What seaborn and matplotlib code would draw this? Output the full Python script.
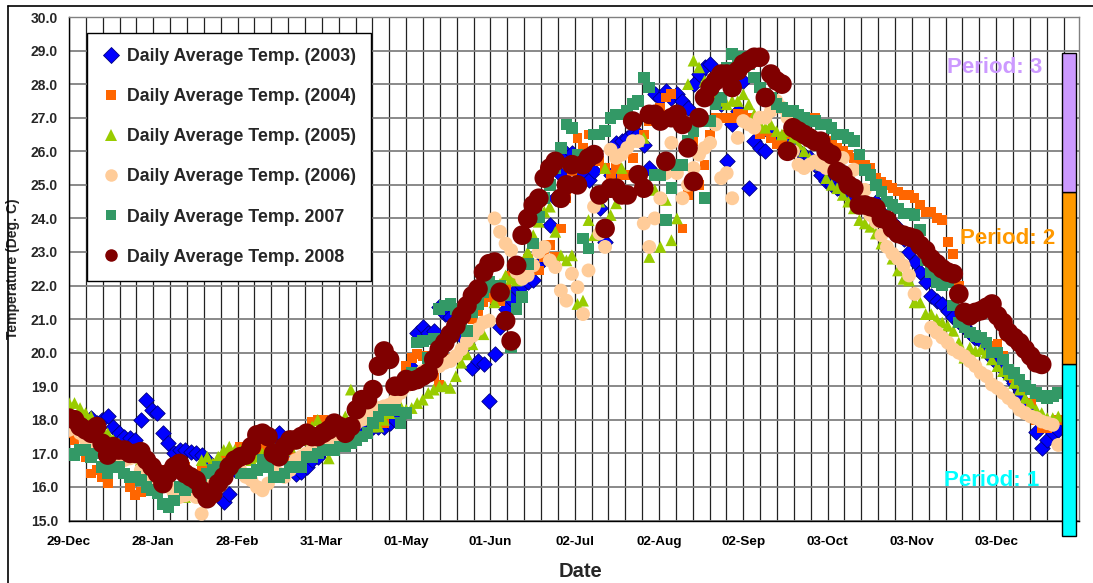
import numpy as np
import pandas as pd
import matplotlib
matplotlib.use("Agg")
import matplotlib.pyplot as plt
import seaborn as sns
from matplotlib.lines import Line2D
from matplotlib.patches import Rectangle

sns.set_style("white")
plt.rcParams["font.family"] = ["Liberation Sans", "DejaVu Sans"]

# ---------------- data (day 0 = 29-Dec, one reading every 2 days) ----------------
days = np.arange(0, 360, 2)

temp_2003 = [
    17.8, 17.9, 17.9, 18.0, 18.05, 17.9, 18.0, 18.1, 17.8, 17.6,
    17.5, 17.45, 17.4, 18.0, 18.6, 18.3, 18.2, 17.6, 17.3, 17.0,
    17.1, 17.1, 17.05, 17.0, 16.95, 16.8, 16.6, 16.2, 15.55, 15.8,
    16.5, 16.9, 17.1, 17.2, 17.3, 17.4, 17.4, 17.5, 17.6, 17.3,
    16.7, 16.4, 16.45, 16.6, 16.8, 16.9, 17.1, 17.3, 17.4, 17.5,
    17.6, 17.6, 17.7, 17.8, 17.8, 17.8, 17.8, 17.8, 17.9, 18.0,
    18.9, 19.3, 19.55, 20.6, 20.75, 20.6, 20.65, 21.35, 21.15, 21.05,
    20.8, 20.5, 20.25, 19.55, 19.75, 19.65, 18.55, 19.95, 20.75, 21.3,
    21.6, 21.9, 22.0, 22.1, 22.15, 22.65, 22.85, 23.8, 24.6, 25.3,
    25.95, 25.95, 25.8, 25.3, 25.15, 25.4, 24.3, 23.3, 25.3, 26.25,
    26.3, 26.4, 26.55, 26.5, 26.2, 25.5, 27.7, 27.6, 27.8, 27.6,
    27.7, 27.5, 27.3, 28.0, 28.3, 28.5, 28.6, 28.0, 27.4, 25.7,
    26.8, 27.2, 28.1, 24.9, 26.3, 26.1, 26.0, 26.5, 26.4, 26.4,
    26.2, 26.1, 26.0, 25.9, 25.8, 25.6, 25.3, 25.1, 25.0, 24.9,
    24.8, 24.7, 24.6, 24.5, 24.5, 24.4, 24.5, 24.2, 24.0, 23.9,
    23.7, 23.4, 23.0, 22.7, 22.4, 22.1, 21.7, 21.55, 21.45, 21.25,
    21.05, 20.9, 20.8, 20.6, 20.45, 20.35, 20.1, 19.85, 19.7, 19.5,
    19.3, 19.1, 18.8, 18.5, 18.2, 17.65, 17.15, 17.4, 17.6, 17.7,
]

temp_2004 = [
    17.6, 17.4, 17.1, 16.9, 16.4, 16.5, 16.3, 16.1, 16.6, 16.8,
    16.4, 16.0, 15.75, 15.85, 16.1, 16.3, 16.4, 16.5, 16.3, 16.4,
    16.5, 16.6, 16.4, 16.3, 16.5, 16.3, 16.6, 16.7, 16.8, 16.9,
    17.0, 17.2, 17.1, 17.0, 17.1, 17.2, 17.3, 17.0, 16.9, 16.9,
    17.1, 17.3, 17.5, 17.7, 17.95, 18.0, 18.0, 17.9, 17.7, 17.6,
    17.7, 17.8, 17.9, 18.1, 18.2, 18.1, 17.95, 17.9, 18.2, 18.6,
    19.1, 19.6, 19.85, 19.95, 19.9, 19.6, 19.3, 19.05, 19.8, 20.5,
    20.75, 20.7, 20.65, 21.0, 21.25, 21.5, 21.65, 21.6, 21.55, 21.9,
    22.3, 22.5, 22.7, 22.8, 22.6, 22.45, 22.85, 23.2, 22.85, 23.7,
    24.6, 25.4, 26.4, 26.1, 26.5, 26.0, 25.7, 25.5, 25.3, 25.5,
    25.3, 25.3, 25.8, 26.3, 26.5, 26.9, 27.1, 27.3, 27.6, 27.7,
    27.2, 23.7, 24.7, 26.3, 25.0, 25.6, 26.5, 27.0, 27.0, 27.0,
    27.0, 27.1, 27.1, 27.0, 26.9, 26.5, 26.6, 26.4, 26.2, 26.3,
    26.5, 26.6, 26.8, 26.9, 27.0, 27.0, 26.4, 26.3, 26.2, 26.1,
    26.0, 25.9, 25.8, 25.7, 25.6, 25.5, 25.2, 25.1, 25.0, 24.9,
    24.8, 24.7, 24.7, 24.6, 24.4, 24.2, 24.2, 24.0, 23.95, 23.3,
    22.95, 22.0, 21.0, 20.6, 20.45, 20.45, 20.3, 20.2, 20.25, 19.9,
    19.5, 19.25, 19.2, 18.9, 18.5, 18.0, 17.75, 17.75, 17.9, 18.0,
]

temp_2005 = [
    18.5, 18.5, 18.35, 18.2, 18.1, 17.9, 17.7, 17.6, 17.4, 17.3,
    17.2, 17.0, 16.9, 16.8, 16.6, 16.4, 16.3, 16.2, 16.0, 15.9,
    15.8, 15.7, 15.9, 16.3, 16.8, 16.9, 16.7, 16.9, 17.1, 17.2,
    17.1, 17.1, 16.9, 16.8, 16.9, 17.0, 17.1, 17.2, 17.1, 17.1,
    17.2, 17.3, 17.4, 17.5, 17.8, 18.0, 17.4, 16.85, 17.2, 17.6,
    18.1, 18.9, 18.6, 18.3, 18.0, 17.8, 17.8, 18.0, 18.2, 18.3,
    18.4, 18.3, 18.35, 18.5, 18.6, 18.8, 18.9, 19.0, 19.0, 18.95,
    19.3, 19.7, 19.95, 20.25, 20.7, 20.55, 21.0, 21.5, 22.05, 22.3,
    22.2, 22.15, 22.5, 23.0, 23.5, 23.9, 24.2, 24.35, 23.6, 22.9,
    22.75, 22.9, 21.45, 21.55, 23.95, 23.5, 24.5, 25.5, 24.1, 24.45,
    25.5, 26.2, 26.3, 26.3, 26.4, 22.85, 24.85, 23.15, 24.55, 23.35,
    24.0, 27.0, 28.0, 28.7, 28.5, 28.1, 27.8, 27.6, 27.5, 27.4,
    27.5, 27.5, 27.7, 27.4, 27.1, 26.8, 26.7, 26.8, 26.6, 26.5,
    26.6, 26.4, 26.2, 26.0, 25.8, 25.7, 25.6, 25.2, 25.0, 24.9,
    24.7, 24.5, 24.3, 23.95, 23.85, 23.75, 23.55, 23.25, 23.2, 22.8,
    22.45, 22.2, 22.15, 21.5, 21.5, 21.15, 21.15, 21.0, 20.9, 20.8,
    20.65, 20.3, 19.85, 20.15, 20.05, 20.1, 20.0, 19.8, 19.6, 19.45,
    19.35, 19.1, 18.9, 18.65, 18.5, 18.3, 18.2, 18.05, 18.05, 18.1,
]

temp_2006 = [
    17.7, 17.8, 17.6, 17.4, 17.3, 17.2, 17.1, 17.0, 16.9, 16.9,
    16.8, 16.85, 16.9, 16.5, 16.4, 16.3, 16.2, 16.1, 16.0, 15.8,
    15.7, 15.75, 15.8, 15.7, 15.2, 16.0, 16.3, 16.4, 16.5, 16.6,
    16.6, 16.5, 16.3, 16.2, 16.0, 15.9, 16.1, 16.6, 16.4, 16.3,
    16.5, 16.8, 16.9, 17.0, 17.1, 17.2, 17.3, 17.4, 17.5, 17.6,
    17.7, 17.8, 17.9, 18.0, 18.2, 18.3, 18.35, 18.4, 18.45, 18.6,
    18.8, 19.0, 19.1, 19.3, 19.45, 19.5, 19.6, 19.6, 19.7, 19.75,
    19.9, 20.1, 20.35, 20.5, 20.7, 20.9, 20.95, 24.0, 23.6, 23.25,
    23.05, 22.4, 22.2, 22.3, 22.6, 23.0, 23.15, 22.75, 22.55, 21.85,
    21.55, 22.35, 21.95, 21.15, 22.45, 24.35, 23.55, 23.15, 26.05, 25.8,
    25.9, 26.1, 26.3, 26.3, 23.85, 23.15, 24.0, 24.6, 25.35, 26.25,
    25.35, 24.6, 25.0, 25.5, 25.9, 26.1, 26.25, 26.8, 25.2, 25.35,
    24.6, 26.4, 26.9, 26.8, 26.7, 27.0, 27.0, 27.2, 27.5, 27.3,
    27.0, 26.0, 25.6, 25.5, 25.6, 25.7, 25.6, 25.5, 25.6, 25.7,
    25.8, 25.3, 25.45, 24.8, 24.85, 24.1, 23.9, 23.5, 23.15, 22.95,
    22.8, 22.6, 22.3, 21.75, 20.35, 20.3, 20.75, 20.6, 20.45, 20.3,
    20.1, 20.0, 19.9, 19.75, 19.6, 19.4, 19.3, 19.05, 18.95, 18.8,
    18.65, 18.5, 18.3, 18.2, 18.1, 18.05, 17.95, 17.9, 17.85, 17.25,
]

temp_2007 = [
    17.0, 16.95, 17.1, 17.1, 16.9, 17.0, 16.6, 16.4, 16.6, 16.6,
    16.4, 16.3, 16.3, 16.2, 16.0, 15.9, 15.8, 15.5, 15.4, 15.6,
    16.0, 15.9, 16.0, 16.1, 16.3, 16.4, 16.5, 16.6, 16.6, 16.7,
    16.8, 16.4, 16.4, 16.4, 16.5, 16.8, 16.6, 16.3, 16.3, 16.4,
    16.6, 16.6, 16.6, 16.9, 16.9, 17.0, 17.1, 17.1, 17.1, 17.2,
    17.2, 17.3, 17.4, 17.5, 17.6, 17.9, 18.1, 18.3, 18.3, 18.3,
    17.9, 18.2, 19.4, 20.3, 20.35, 19.85, 20.4, 21.3, 21.4, 21.45,
    21.3, 20.9, 20.65, 21.2, 21.45, 21.8, 22.1, 21.95, 22.0, 21.7,
    20.15, 21.3, 21.65, 22.65, 23.25, 24.05, 24.6, 25.0, 25.5, 26.1,
    26.8, 26.7, 25.9, 23.4, 23.1, 26.5, 26.5, 26.6, 27.0, 27.1,
    27.1, 27.2, 27.4, 27.5, 28.2, 27.9, 25.3, 25.3, 23.95, 24.9,
    25.6, 25.6, 26.3, 26.6, 26.9, 24.6, 26.9, 27.4, 27.6, 28.5,
    28.9, 28.8, 28.8, 28.6, 28.2, 27.9, 27.7, 27.6, 27.4, 27.3,
    27.2, 27.2, 27.1, 27.0, 26.9, 26.9, 26.8, 26.8, 26.7, 26.5,
    26.5, 26.4, 26.3, 25.9, 25.45, 25.3, 25.0, 24.8, 24.5, 24.4,
    24.3, 24.15, 24.15, 24.1, 23.65, 22.75, 22.4, 22.1, 22.0, 22.1,
    21.4, 20.9, 20.75, 20.6, 20.5, 20.45, 20.3, 20.0, 20.0, 19.8,
    19.5, 19.4, 19.2, 19.0, 18.9, 18.8, 18.7, 18.65, 18.7, 18.8,
]

temp_2008 = [
    18.05, 18.0, 17.8, 17.7, 17.6, 17.8, 17.3, 16.95, 17.2, 17.1,
    17.1, 17.0, 17.0, 17.05, 16.8, 16.6, 16.4, 16.1, 16.4, 16.6,
    16.7, 16.4, 16.3, 16.2, 15.9, 15.65, 15.8, 16.1, 16.3, 16.6,
    16.8, 16.9, 16.95, 17.2, 17.55, 17.6, 17.5, 17.0, 16.9, 17.2,
    17.4, 17.4, 17.5, 17.6, 17.5, 17.5, 17.6, 17.7, 17.9, 17.8,
    17.6, 17.8, 18.3, 18.6, 18.6, 18.9, 19.6, 20.05, 19.8, 19.0,
    19.0, 19.2, 19.15, 19.2, 19.3, 19.4, 19.8, 20.1, 20.3, 20.55,
    20.8, 21.1, 21.4, 21.7, 21.9, 22.4, 22.65, 22.7, 21.8, 20.95,
    20.35, 22.6, 23.5, 24.0, 24.4, 24.6, 25.2, 25.5, 25.7, 24.6,
    25.0, 25.6, 25.0, 25.6, 25.8, 25.9, 24.7, 23.7, 24.9, 24.9,
    24.7, 24.7, 26.9, 25.3, 24.9, 27.1, 27.1, 26.9, 25.7, 27.0,
    27.1, 26.8, 26.1, 25.1, 27.0, 27.6, 27.9, 28.1, 28.3, 28.3,
    27.9, 28.4, 28.6, 28.7, 28.8, 28.8, 27.6, 28.3, 28.1, 28.0,
    26.0, 26.7, 26.6, 26.5, 26.4, 26.3, 26.3, 26.0, 25.9, 25.4,
    25.3, 25.0, 24.9, 24.4, 24.4, 24.35, 24.3, 24.0, 23.95, 23.7,
    23.55, 23.5, 23.45, 23.4, 23.2, 23.05, 22.8, 22.65, 22.5, 22.4,
    22.35, 21.75, 21.2, 21.1, 21.2, 21.25, 21.35, 21.45, 21.1, 20.9,
    20.6, 20.45, 20.3, 20.1, 19.9, 19.7, 19.65, np.nan, np.nan, np.nan,
]

series_labels = [
    "Daily Average Temp. (2003)",
    "Daily Average Temp. (2004)",
    "Daily Average Temp. (2005)",
    "Daily Average Temp. (2006)",
    "Daily Average Temp. 2007",
    "Daily Average Temp. 2008",
]
series_values = [temp_2003, temp_2004, temp_2005, temp_2006, temp_2007, temp_2008]

x_tick_labels = ["29-Dec", "28-Jan", "28-Feb", "31-Mar", "01-May", "01-Jun",
                 "02-Jul", "02-Aug", "02-Sep", "03-Oct", "03-Nov", "03-Dec"]

period_names = ["Period: 1", "Period: 2", "Period: 3"]
period_bounds = [14.54, 19.66, 24.8, 28.92]

# ---------------- styles ----------------
colors = ["#0000FF", "#FF6600", "#99CC00", "#FFCC99", "#339966", "#800000"]
edgecolors = ["#000080", "none", "none", "none", "none", "none"]
markers = ["D", "s", "^", "o", "s", "o"]
sizes = [62, 50, 72, 100, 70, 200]
legend_ms = [8.0, 6.5, 8.0, 9.0, 7.0, 9.0]
period_colors = ["#00FFFF", "#FF9900", "#CC99FF"]

frames = []
for lab, vals in zip(series_labels, series_values):
    frames.append(pd.DataFrame({"day": days, "temp": vals, "series": lab}))
df = pd.concat(frames, ignore_index=True).dropna()

W, H = 1093, 583
fig = plt.figure(figsize=(W / 100, H / 100), dpi=100)
ax = fig.add_axes([69 / W, (H - 520.5) / H, (1079 - 69) / W, (520.5 - 17) / H])

for i, lab in enumerate(series_labels):
    sub = df[df["series"] == lab]
    sns.scatterplot(data=sub, x="day", y="temp", ax=ax, marker=markers[i],
                    color=colors[i], s=sizes[i],
                    edgecolor=edgecolors[i], linewidth=0.6 if i == 0 else 0,
                    legend=False, zorder=3 + i)

x_major_unit = 30.5
ax.set_xlim(0, 365.5)
ax.set_ylim(15, 30)
ax.set_xticks(np.arange(len(x_tick_labels)) * x_major_unit)
ax.set_xticklabels(x_tick_labels)
ax.set_xticks(np.arange(0, 365.5, x_major_unit / 5), minor=True)
ax.set_yticks(np.arange(15, 30.01, 1.0))
ax.set_yticklabels([f"{v:.1f}" for v in np.arange(15, 30.01, 1.0)])

ax.set_axisbelow(True)
ax.grid(True, axis="x", which="both", color="#222222", linewidth=0.9)
ax.grid(True, axis="y", which="major", color="#808080", linewidth=1.3)

ax.tick_params(axis="x", which="major", direction="out", length=4, width=1,
               labelsize=9.7, pad=7, colors="black")
ax.tick_params(axis="x", which="minor", length=0)
ax.tick_params(axis="y", which="major", direction="out", length=5, width=1,
               labelsize=10, pad=3)
for t in ax.get_xticklabels() + ax.get_yticklabels():
    t.set_fontweight("bold")

for side in ["left", "bottom"]:
    ax.spines[side].set_color("black")
    ax.spines[side].set_linewidth(1.0)
for side in ["top", "right"]:
    ax.spines[side].set_color("#808080")
    ax.spines[side].set_linewidth(1.0)

ax.set_ylabel("Temperature (Deg. C)", fontsize=10, fontweight="bold")
ax.yaxis.set_label_coords(-0.0485, 0.5)
ax.set_xlabel("Date", fontsize=14.5, fontweight="bold", va="center")
ax.xaxis.set_label_coords(0.506, -0.102)

# period bar at the right
for lo, hi, pc in zip(period_bounds[:-1], period_bounds[1:], period_colors):
    ax.add_patch(Rectangle((359.5, lo), 4.9, hi - lo, facecolor=pc,
                           edgecolor="black", linewidth=1, clip_on=False, zorder=10))

period_text_pos = [(334, 16.2), (339.5, 23.4), (335, 28.5)]
for name, (px, py), pc in zip(period_names, period_text_pos, period_colors):
    ax.text(px, py, name, color=pc, fontsize=16, fontweight="bold",
            ha="center", va="center", zorder=11)

handles = [Line2D([], [], linestyle="none", marker=markers[i], markersize=legend_ms[i],
                  markerfacecolor=colors[i],
                  markeredgecolor=edgecolors[i] if edgecolors[i] != "none" else colors[i],
                  markeredgewidth=0.6 if i == 0 else 0)
           for i in range(len(series_labels))]
leg = ax.legend(handles, series_labels, loc="upper left",
                bbox_to_anchor=(18 / 1010, (520.5 - 33) / 503.5),
                prop={"weight": "bold", "size": 12.8}, frameon=True, fancybox=False,
                edgecolor="black", framealpha=1, labelspacing=1.3,
                handlelength=1.0, handletextpad=0.4, borderpad=0.85,
                borderaxespad=0)
leg.get_frame().set_linewidth(1.0)
leg.set_zorder(20)

# outer chart frame (top and left edges visible)
fig.add_artist(Line2D([8 / W, 1], [(H - 5.5) / H, (H - 5.5) / H],
                      transform=fig.transFigure, color="black", linewidth=1.2))
fig.add_artist(Line2D([8 / W, 8 / W], [0, (H - 5.5) / H],
                      transform=fig.transFigure, color="black", linewidth=1.2))

fig.savefig("out.png", dpi=100)
